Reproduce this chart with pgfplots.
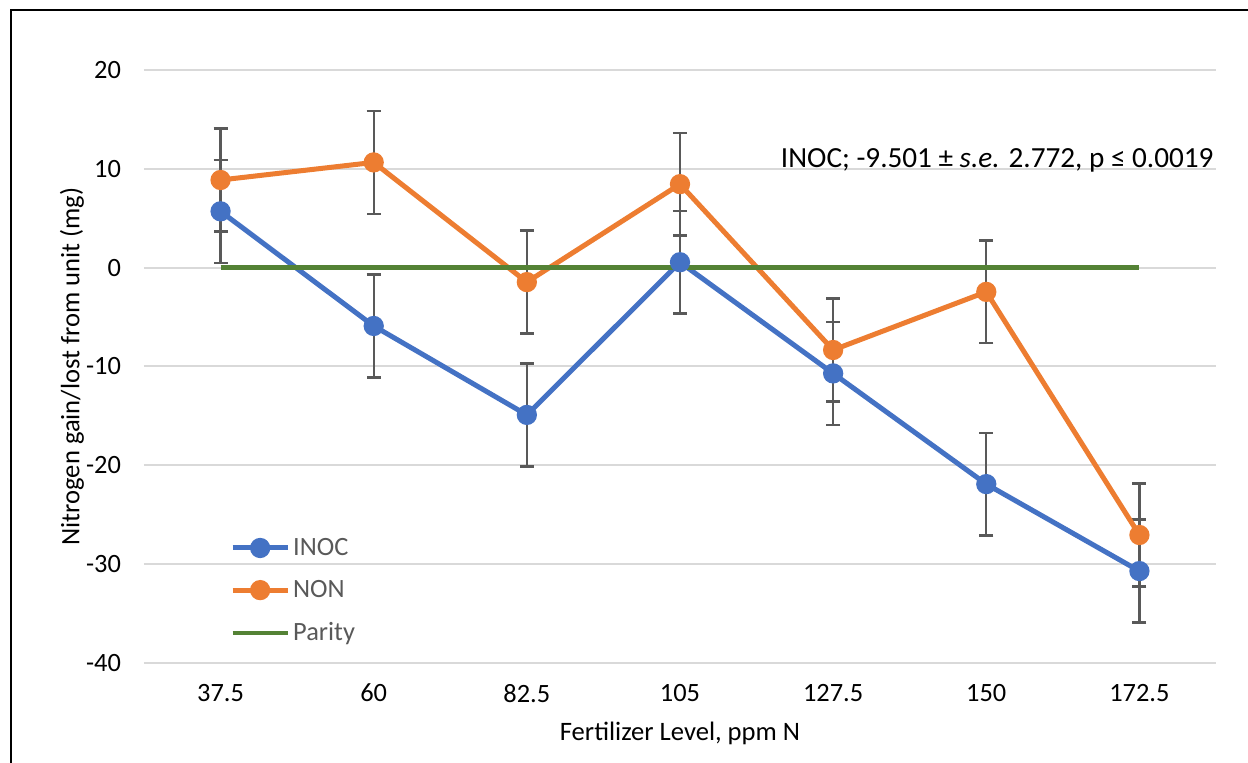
\documentclass[border=0pt]{standalone}
\usepackage{pgfplots}
\pgfplotsset{compat=1.18}
\usepackage{fontspec}
\setmainfont{Carlito}

\definecolor{inoc}{HTML}{4472C4}
\definecolor{non}{HTML}{ED7D31}
\definecolor{parity}{HTML}{548235}
\definecolor{errc}{HTML}{595959}
\definecolor{gridc}{HTML}{D9D9D9}
\definecolor{legtxt}{HTML}{595959}

\begin{document}
\begin{tikzpicture}
\useasboundingbox (-72pt,-50pt) rectangle (552pt,331.5pt);
\draw[line width=1.2pt] (-66.5pt,-52pt) -- (-66.5pt,326.5pt) -- (560pt,326.5pt);
\begin{axis}[
    at={(0,0)}, anchor=south west,
    scale only axis,
    width=536pt, height=296.5pt,
    xmin=-0.5, xmax=6.5,
    ymin=-40, ymax=20,
    xtick={0,1,2,3,4,5,6},
    xticklabels={37.5,60,82.5,105,127.5,150,172.5},
    ytick={-40,-30,-20,-10,0,10,20},
    major tick length=0pt,
    axis line style={draw=none},
    ymajorgrids,
    major grid style={gridc, line width=1pt},
    tick label style={font=\fontsize{13.2}{15}\selectfont, text=black},
    /pgf/number format/assume math mode=true,
    yticklabel style={xshift=-8pt},
    xticklabel style={yshift=-7pt},
    xlabel={Fertilizer Level, ppm N},
    ylabel={Nitrogen gain/lost from unit (mg)},
    label style={font=\fontsize{13.3}{15}\selectfont},
    xlabel style={at={(axis description cs:0.5,0)}, anchor=center, yshift=-35pt},
    ylabel style={at={(axis description cs:0,0.5)}, anchor=center, yshift=36pt},
    legend style={draw=none, fill=none, at={(axis cs:0.06,-26.9)}, anchor=north west,
        font=\fontsize{13.2}{15}\selectfont, text=legtxt,
        row sep=7pt, inner sep=0pt,
        nodes={inner xsep=1.5pt}},
    legend cell align=left,
    legend image code/.code={
        \draw[#1, mark=none] (0pt,0pt) -- (27.5pt,0pt);
        \draw[#1, only marks] plot coordinates {(13.75pt,0pt)};
    },
    error bars/error bar style={errc, line width=1.2pt},
    error bars/error mark options={errc, rotate=90, mark size=3.5pt, line width=1.2pt},
]
\addplot[inoc, line width=2.5pt, mark=*, mark size=3.8pt,
    error bars/.cd, y dir=both, y explicit]
    coordinates {
    (0,5.7) +- (0,5.2)
    (1,-5.9) +- (0,5.2)
    (2,-14.9) +- (0,5.2)
    (3,0.55) +- (0,5.2)
    (4,-10.7) +- (0,5.2)
    (5,-21.9) +- (0,5.2)
    (6,-30.7) +- (0,5.2)
    };
\addlegendentry{INOC}
\addplot[non, line width=2.5pt, mark=*, mark size=3.8pt,
    error bars/.cd, y dir=both, y explicit]
    coordinates {
    (0,8.87) +- (0,5.2)
    (1,10.65) +- (0,5.2)
    (2,-1.46) +- (0,5.2)
    (3,8.45) +- (0,5.2)
    (4,-8.33) +- (0,5.2)
    (5,-2.45) +- (0,5.2)
    (6,-27.05) +- (0,5.2)
    };
\addlegendentry{NON}
\addplot[parity, line width=2.2pt, mark=none]
    coordinates {(0,0) (1,0) (2,0) (3,0) (4,0) (5,0) (6,0)};
\addlegendentry{Parity}
\node[anchor=base east, font=\fontsize{14.6}{17}\selectfont] at (axis cs:6.53,10.18)
    {INOC; -9.501 ± \textit{s.e.} 2.772, p ≤ 0.0019};
\end{axis}
\end{tikzpicture}
\end{document}
